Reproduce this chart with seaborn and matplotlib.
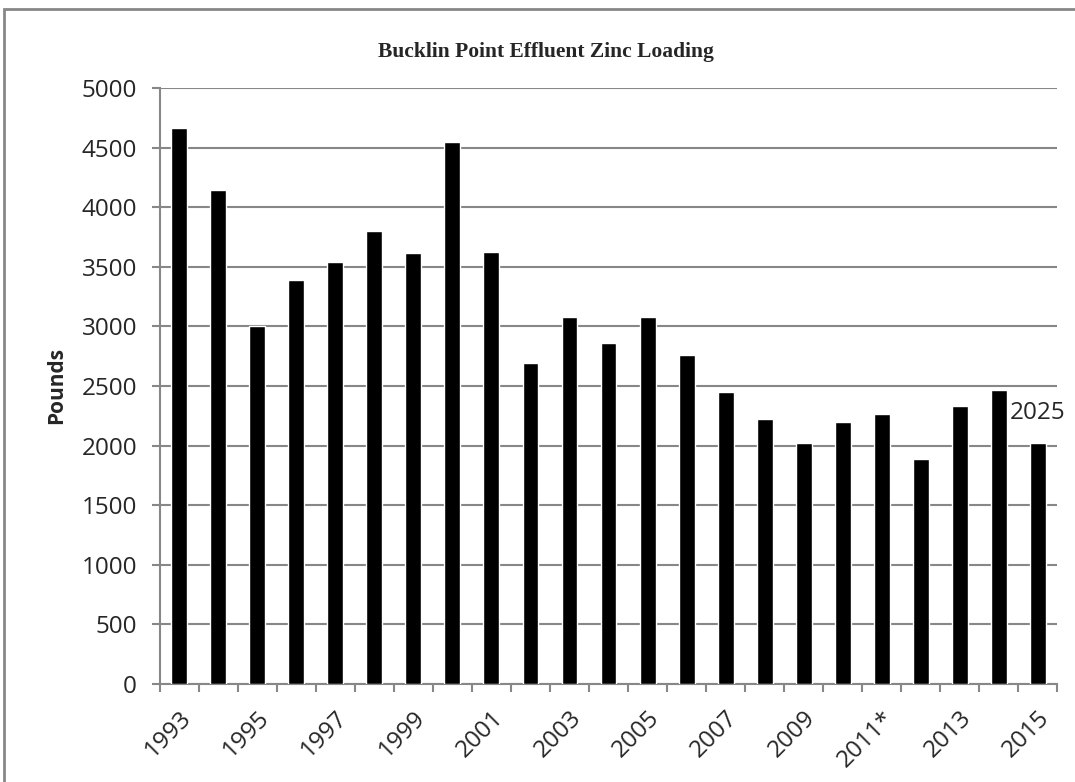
import matplotlib
matplotlib.use("Agg")
import matplotlib.pyplot as plt
from matplotlib.patches import Rectangle
import seaborn as sns
import pandas as pd

# Zinc loading values (pounds)
years = [str(y) for y in range(1993, 2016)]
pounds = [4665, 4140, 3005, 3385, 3540, 3797, 3613, 4547, 3620, 2692, 3082, 2858,
          3075, 2763, 2450, 2227, 2020, 2198, 2264, 1890, 2331, 2466, 2025]
tick_labels = ["1993", "1995", "1997", "1999", "2001", "2003", "2005", "2007",
               "2009", "2011*", "2013", "2015"]
last_label = "2025"

data = pd.DataFrame({"Year": years, "Pounds": pounds})

sns.set_style("white")
plt.rcParams['font.family'] = ['Open Sans', 'DejaVu Sans']

grey = "#878787"
fig = plt.figure(figsize=(10.75, 7.82), dpi=100)
ax = fig.add_axes([0.1488, 0.1253, 0.8345, 0.7622])

sns.barplot(data=data, x="Year", y="Pounds", color="black", width=0.41,
            saturation=1, ax=ax, zorder=3)

ax.set_ylim(0, 5000)
ax.set_xlim(-0.5, len(years) - 0.5)
ax.set_yticks(range(0, 5001, 500))
ax.tick_params(axis="y", left=True, labelsize=17.5, length=5.5, width=1.5,
               color=grey, pad=11)
ax.yaxis.grid(True, color=grey, linewidth=1.5, zorder=0)
ax.set_axisbelow(True)

# labels on every other year, tick marks between categories
ax.set_xticks(range(0, len(years), 2))
ax.set_xticklabels(tick_labels, rotation=45, ha="right", rotation_mode="anchor")
ax.set_xticks([i - 0.5 for i in range(len(years) + 1)], minor=True)
ax.tick_params(axis="x", which="major", bottom=False, length=0, labelsize=17.5, pad=16)
ax.tick_params(axis="x", which="minor", bottom=True, length=6, width=1.5, color=grey)

for side in ["top", "right"]:
    ax.spines[side].set_visible(False)
for side in ["left", "bottom"]:
    ax.spines[side].set_color(grey)
    ax.spines[side].set_linewidth(1.5)

ax.set_xlabel("")
ax.set_ylabel("Pounds", fontsize=15, fontweight="bold", labelpad=10)

# data label for the final year
ax.text(len(years) - 1, pounds[-1] + 150, last_label, fontsize=17.5,
        ha="center", va="bottom")

fig.suptitle("Bucklin Point Effluent Zinc Loading", x=0.508, y=0.933, va="center",
             fontsize=15.5, fontweight="bold", family=["Liberation Serif"])

fig.patches.append(Rectangle((0.004, -0.1), 1.2, 0.1 + 0.9885, transform=fig.transFigure,
                             fill=False, edgecolor=grey, linewidth=2))

fig.savefig("out.png", dpi=100)
